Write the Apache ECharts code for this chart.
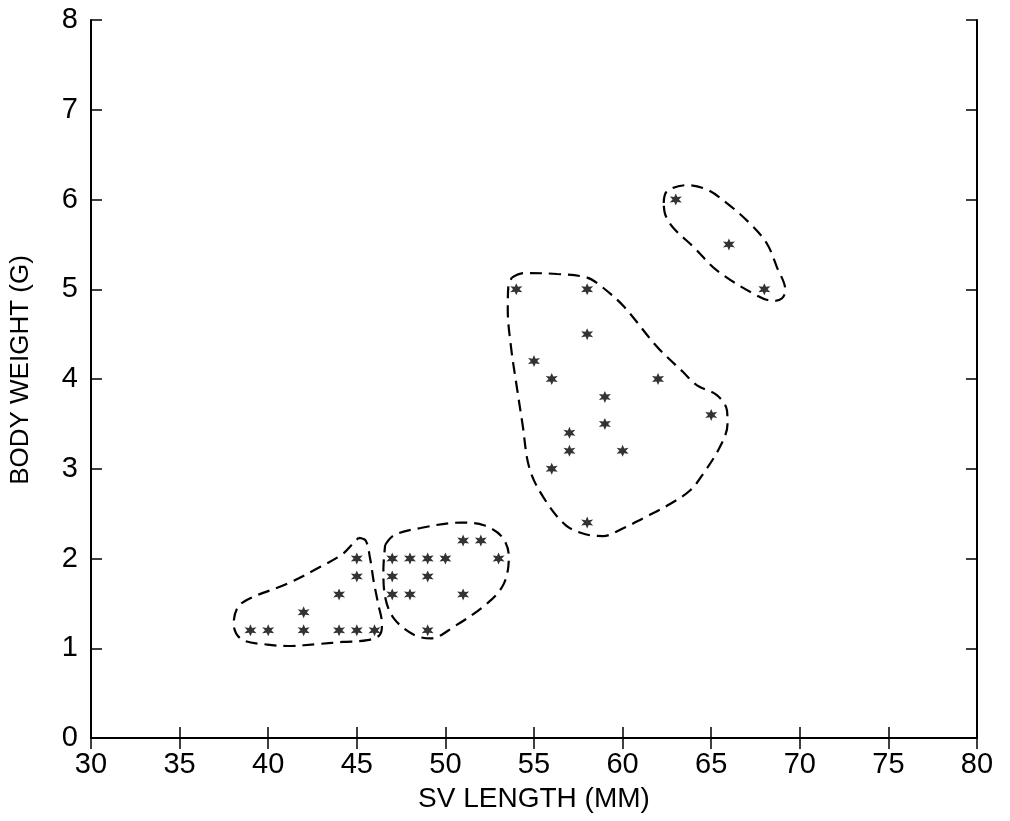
<!DOCTYPE html>
<html>
<head>
<meta charset="utf-8">
<script src="https://cdn.jsdelivr.net/npm/echarts@6/dist/echarts.min.js"></script>
<style>
  html, body { margin: 0; padding: 0; background: #fff; }
  #chart { width: 1010px; height: 821px; }
</style>
</head>
<body>
<div id="chart"></div>
<script>
// Snout-vent length (mm) vs body weight (g)
const xTicks = [30, 35, 40, 45, 50, 55, 60, 65, 70, 75, 80];
const yTicks = [0, 1, 2, 3, 4, 5, 6, 7, 8];

// Individual specimens, [SV length, body weight]
const groupA = [
  [39, 1.2], [40, 1.2], [42, 1.2], [42, 1.4], [44, 1.2], [44, 1.6],
  [45, 1.2], [46, 1.2], [45, 1.8], [45, 2.0]
];
const groupB = [
  [47, 2.0], [48, 2.0], [49, 2.0], [50, 2.0], [47, 1.8], [49, 1.8],
  [47, 1.6], [48, 1.6], [51, 1.6], [49, 1.2], [51, 2.2], [52, 2.2], [53, 2.0]
];
const groupC = [
  [54, 5.0], [58, 5.0], [58, 4.5], [55, 4.2], [56, 4.0], [62, 4.0],
  [59, 3.8], [59, 3.5], [65, 3.6], [57, 3.4], [57, 3.2], [60, 3.2],
  [56, 3.0], [58, 2.4]
];
const groupD = [
  [63, 6.0], [66, 5.5], [68, 5.0]
];

// Hand-drawn outlines enclosing each group
const outlineA = [
  [45.1, 2.23], [45.5, 2.2], [45.75, 2.0], [45.95, 1.75], [46.2, 1.5], [46.42, 1.27],
  [46.3, 1.15], [45.6, 1.09], [44.2, 1.07], [42.97, 1.05], [41.09, 1.025], [39.96, 1.04],
  [38.5, 1.1], [38.05, 1.27], [38.3, 1.46], [39.02, 1.56], [41.09, 1.72],
  [42.97, 1.91], [44.2, 2.05], [44.8, 2.17], [45.1, 2.23]
];
const outlineB = [
  [46.6, 2.15], [47.1, 2.26], [48.6, 2.34], [50.86, 2.40], [52.17, 2.37],
  [53.2, 2.24], [53.58, 2.02], [53.3, 1.72], [52.36, 1.50], [50.48, 1.24],
  [49.17, 1.11], [48.22, 1.15], [47.1, 1.33], [46.6, 1.57], [46.5, 1.87],
  [46.6, 2.15]
];
const outlineC = [
  [53.75, 5.13], [54.42, 5.18], [56.3, 5.17], [58.0, 5.13], [58.75, 5.04],
  [60.06, 4.81], [61.94, 4.36], [63.4, 4.08], [64.2, 3.93], [65.32, 3.82],
  [65.89, 3.65], [65.92, 3.5], [65.51, 3.25], [64.57, 2.95], [63.82, 2.76],
  [62.7, 2.61], [61.38, 2.47], [60.06, 2.34], [58.9, 2.25], [57.9, 2.27],
  [56.8, 2.37], [55.6, 2.66], [54.75, 3.0], [54.35, 3.5], [54.0, 3.95],
  [53.7, 4.36], [53.52, 4.77], [53.55, 5.03], [53.75, 5.13]
];
const outlineD = [
  [62.32, 5.96], [62.5, 6.09], [63.63, 6.16], [64.76, 6.11], [65.88, 5.96],
  [67.2, 5.73], [68.14, 5.51], [68.7, 5.25], [69.18, 4.99], [69.0, 4.9],
  [68.52, 4.87], [67.58, 4.93], [65.32, 5.21], [64.01, 5.47], [62.88, 5.68],
  [62.41, 5.83], [62.32, 5.96]
];

// Six-spoke asterisk marker as an SVG path
function asteriskPath() {
  const pts = [];
  const outer = 10, inner = 4.6;
  for (let i = 0; i < 12; i++) {
    const r = i % 2 === 0 ? outer : inner;
    const a = -Math.PI / 2 + i * Math.PI / 6;
    pts.push((r * Math.cos(a)).toFixed(2) + ' ' + (r * Math.sin(a)).toFixed(2));
  }
  return 'path://M' + pts.join(' L') + ' Z';
}
const starSymbol = asteriskPath();

const FONT = 'Liberation Sans';
const axisLine = { show: true, lineStyle: { color: '#000', width: 2 } };
const tickStyle = { show: true, inside: true, length: 11, lineStyle: { color: '#000', width: 1.5 } };

function pointSeries(data) {
  return {
    type: 'scatter', xAxisIndex: 0, yAxisIndex: 0, data: data,
    symbol: starSymbol, symbolSize: 12,
    itemStyle: { color: '#000' }, z: 5
  };
}
function outlineSeries(data) {
  return {
    type: 'line', xAxisIndex: 0, yAxisIndex: 0, data: data,
    smooth: 0.35, showSymbol: false, symbol: 'none',
    lineStyle: { color: '#000', width: 2.2, type: [12, 7] },
    z: 4, silent: true
  };
}

const chart = echarts.init(document.getElementById('chart'), null, { renderer: 'canvas' });
chart.setOption({
  animation: false,
  backgroundColor: '#fff',
  grid: { left: 90, right: 33, top: 20, bottom: 83, containLabel: false },
  xAxis: [
    {
      type: 'value', min: 30, max: 80, interval: 5, position: 'bottom',
      name: 'SV LENGTH (MM)', nameLocation: 'middle', nameGap: 47,
      nameTextStyle: { fontFamily: FONT, fontSize: 28, color: '#000' },
      axisLine: axisLine, axisTick: tickStyle, splitLine: { show: false },
      axisLabel: {
        fontFamily: FONT, fontSize: 29, color: '#000', margin: 12,
        formatter: v => xTicks.includes(v) ? String(v) : ''
      }
    },
    {
      type: 'value', min: 30, max: 80, interval: 5, position: 'top',
      axisLine: axisLine, axisTick: tickStyle, splitLine: { show: false },
      axisLabel: { show: false }
    }
  ],
  yAxis: [
    {
      type: 'value', min: 0, max: 8, interval: 1, position: 'left',
      name: 'BODY WEIGHT (G)', nameLocation: 'middle', nameGap: 57, nameRotate: 90,
      nameTextStyle: { fontFamily: FONT, fontSize: 26, color: '#000', padding: [0, 0, 0, 18] },
      axisLine: axisLine, axisTick: tickStyle, splitLine: { show: false },
      axisLabel: {
        fontFamily: FONT, fontSize: 29, color: '#000', margin: 13,
        formatter: v => yTicks.includes(v) ? String(v) : ''
      }
    },
    {
      type: 'value', min: 0, max: 8, interval: 1, position: 'right',
      axisLine: axisLine, axisTick: tickStyle, splitLine: { show: false },
      axisLabel: { show: false }
    }
  ],
  series: [
    outlineSeries(outlineA), outlineSeries(outlineB),
    outlineSeries(outlineC), outlineSeries(outlineD),
    pointSeries(groupA), pointSeries(groupB),
    pointSeries(groupC), pointSeries(groupD)
  ]
});
</script>
</body>
</html>
